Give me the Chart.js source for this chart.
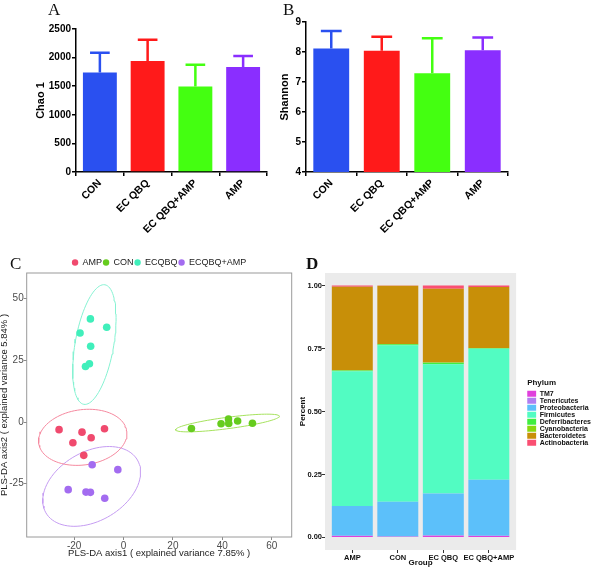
<!DOCTYPE html>
<html>
<head>
<meta charset="utf-8">
<script src="https://cdn.jsdelivr.net/npm/chart.js@4/dist/chart.umd.min.js"></script>
<style>
  html, body { margin: 0; padding: 0; background: #fff; overflow: hidden; }
  #fig { position: relative; width: 596px; height: 568px; overflow: hidden; }
  #fig canvas { position: absolute; }
  .tag {
    position: absolute;
    font-family: "Liberation Serif", "DejaVu Serif", serif;
    font-size: 17px;
    line-height: 17px;
    color: #111;
  }
</style>
</head>
<body>
<div id="fig">
  <canvas id="chartA" width="290" height="250" style="left:0;top:0"></canvas>
  <canvas id="chartB" width="326" height="250" style="left:270px;top:0"></canvas>
  <canvas id="chartC" width="300" height="315" style="left:0;top:253px"></canvas>
  <canvas id="chartD" width="305" height="313" style="left:296px;top:255px"></canvas>
  <div class="tag" style="left:48px;top:1px">A</div>
  <div class="tag" style="left:283px;top:1px">B</div>
  <div class="tag" style="left:10px;top:255px">C</div>
  <div class="tag" style="left:306px;top:255px;font-weight:bold">D</div>
</div>

<script>
// ================= DATA =================
// A / B: alpha diversity (mean and upper end of the error bar)
const groups = ["CON", "EC QBQ", "EC QBQ+AMP", "AMP"];
const groupColors = ["#2a50f0", "#ff1a1a", "#44ff11", "#8a2eff"];
const chao1Mean = [1740, 1940, 1495, 1835];
const chao1Upper = [2085, 2310, 1875, 2030];
const chao1Ticks = [0, 500, 1000, 1500, 2000, 2500];
const shannonMean = [8.12, 8.04, 7.29, 8.06];
const shannonUpper = [8.7, 8.51, 8.46, 8.48];
const shannonTicks = [4, 5, 6, 7, 8, 9];

// C: PLS-DA scores
const plsGroups = ["AMP", "CON", "ECQBQ", "ECQBQ+AMP"];
const plsColors = ["#f04a6e", "#66cc1e", "#40efbb", "#a36cf0"];
const ellipseColors = ["#f5899f", "#a6e25e", "#86f2d2", "#c59cf2"];
const ampX = [-26.1, -20.5, -16.8, -13.1, -7.7, -16.1];
const ampY = [-3.1, -8.4, -4.1, -6.4, -2.7, -13.5];
const conX = [27.5, 39.5, 42.5, 42.6, 46.2, 52.2];
const conY = [-2.6, -0.7, 1.2, -0.6, 0.4, -0.5];
const ecqbqX = [-13.4, -17.6, -6.8, -13.3, -13.8, -15.4];
const ecqbqY = [41.8, 36.1, 38.4, 30.7, 23.6, 22.5];
const ecqbqAmpX = [-12.7, -2.3, -22.4, -15.2, -13.4, -7.6];
const ecqbqAmpY = [-17.3, -19.3, -27.4, -28.4, -28.5, -30.9];
// confidence ellipses: centre, semi axes and tilt (degrees), one per group
const ellipseCx = [-16.5, 42.1, -11.8, -12.9];
const ellipseCy = [-6.2, -0.4, 31.4, -26.1];
const ellipseA = [18.0, 21.2, 24.6, 21.4];
const ellipseB = [11.2, 2.3, 7.8, 14.0];
const ellipseTilt = [8, 7.5, 80, 30];
const plsXTicks = [-20, 0, 20, 40, 60];
const plsYTicks = [-25, 0, 25, 50];

// D: relative abundance by phylum
const phylaGroups = ["AMP", "CON", "EC QBQ", "EC QBQ+AMP"];
const phyla = ["TM7", "Tenericutes", "Proteobacteria", "Firmicutes",
  "Deferribacteres", "Cyanobacteria", "Bacteroidetes", "Actinobacteria"];
const phylaColors = ["#e040dc", "#b07ef0", "#5cc0fa", "#52fcc2",
  "#40ee40", "#88d810", "#c88f08", "#fa4f72"];
const tm7 = [0.006, 0.003, 0.007, 0.006];
const tenericutes = [0.001, 0.001, 0.001, 0.001];
const proteobacteria = [0.118, 0.138, 0.166, 0.222];
const firmicutes = [0.535, 0.621, 0.514, 0.52];
const deferribacteres = [0.003, 0.004, 0.006, 0.002];
const cyanobacteria = [0.001, 0.001, 0.001, 0.001];
const bacteroidetes = [0.331, 0.231, 0.292, 0.242];
const actinobacteria = [0.005, 0.001, 0.013, 0.006];
const percentTicks = [0, 0.25, 0.5, 0.75, 1];

Chart.defaults.font.family = '"Liberation Sans", Arial, sans-serif';
Chart.defaults.animation = false;

// ================= PLUGINS =================
const errorBars = {
  id: "errorBars",
  afterDatasetsDraw(chart) {
    const { ctx } = chart;
    const y = chart.scales.y;
    const ds = chart.data.datasets[0];
    chart.getDatasetMeta(0).data.forEach((bar, i) => {
      const top = y.getPixelForValue(ds.upper[i]);
      const half = bar.width * 0.29;
      ctx.save();
      ctx.strokeStyle = ds.backgroundColor[i];
      ctx.lineWidth = 2.5;
      ctx.beginPath();
      ctx.moveTo(bar.x, bar.y);
      ctx.lineTo(bar.x, top);
      ctx.moveTo(bar.x - half, top);
      ctx.lineTo(bar.x + half, top);
      ctx.stroke();
      ctx.restore();
    });
  },
};

const panelFrame = {
  id: "panelFrame",
  beforeDatasetsDraw(chart) {
    const { ctx, chartArea: a } = chart;
    ctx.save();
    ctx.strokeStyle = "#9a9a9a";
    ctx.lineWidth = 1;
    ctx.strokeRect(a.left, a.top, a.right - a.left, a.bottom - a.top);
    ctx.restore();
  },
};

const nudgeLegend = {
  id: "nudgeLegend",
  afterLayout(chart) {
    chart.legend.top += 4;
    chart.legend.bottom += 4;
  },
};

const grayPanel = {
  id: "grayPanel",
  beforeDraw(chart) {
    const { ctx, chartArea: a } = chart;
    ctx.save();
    ctx.fillStyle = "#ebebeb";
    ctx.fillRect(a.left, a.top, a.right - a.left, a.bottom - a.top);
    ctx.restore();
  },
};

// ================= A / B: BAR PANELS =================
function barPanel(id, values, upper, yTicks, yTitle, pad, yWidth) {
  return new Chart(document.getElementById(id), {
    type: "bar",
    data: {
      labels: groups,
      datasets: [{
        data: values,
        upper: upper,
        backgroundColor: groupColors,
        barPercentage: 0.71,
        categoryPercentage: 1,
      }],
    },
    options: {
      responsive: false,
      layout: { padding: pad },
      plugins: { legend: { display: false }, tooltip: { enabled: false } },
      scales: {
        x: {
          grid: { drawOnChartArea: false, tickLength: 4, color: "#000", lineWidth: 1.5 },
          border: { color: "#000", width: 1.5 },
          ticks: {
            color: "#000", minRotation: 45, maxRotation: 45, padding: 1,
            font: { size: 10.5, weight: "bold" },
          },
          afterFit: (s) => { s.height = 78; },
        },
        y: {
          min: yTicks[0],
          max: yTicks[yTicks.length - 1],
          afterBuildTicks: (s) => { s.ticks = yTicks.map((v) => ({ value: v })); },
          grid: { drawOnChartArea: false, tickLength: 4, color: "#000", lineWidth: 1.5 },
          border: { color: "#000", width: 1.5 },
          ticks: {
            color: "#000", padding: 1, font: { size: 10, weight: "bold" },
            callback: (v) => String(v),
          },
          title: {
            display: true, text: yTitle, color: "#000", padding: 0,
            font: { size: 11, weight: "bold" },
          },
          afterFit: (s) => { s.width = yWidth; },
        },
      },
    },
    plugins: [errorBars],
  });
}

barPanel("chartA", chao1Mean, chao1Upper, chao1Ticks, "Chao 1",
  { left: 34.4, top: 29, right: 23, bottom: 0 }, 41.6);
barPanel("chartB", shannonMean, shannonUpper, shannonTicks, "Shannon",
  { left: 8.4, top: 22, right: 88, bottom: 0 }, 27.6);

// ================= C: PLS-DA SCATTER =================
function toPoints(xs, ys) {
  return xs.map((x, i) => ({ x: x, y: ys[i] }));
}

function ellipsePoints(k) {
  const t = (ellipseTilt[k] * Math.PI) / 180;
  const pts = [];
  for (let d = 0; d <= 360; d += 4) {
    const u = (d * Math.PI) / 180;
    const ca = ellipseA[k] * Math.cos(u);
    const sb = ellipseB[k] * Math.sin(u);
    pts.push({
      x: ellipseCx[k] + ca * Math.cos(t) - sb * Math.sin(t),
      y: ellipseCy[k] + ca * Math.sin(t) + sb * Math.cos(t),
    });
  }
  return pts;
}

const plsPoints = [
  toPoints(ampX, ampY),
  toPoints(conX, conY),
  toPoints(ecqbqX, ecqbqY),
  toPoints(ecqbqAmpX, ecqbqAmpY),
];

const scatterSets = plsGroups.map((g, k) => ({
  label: g,
  data: plsPoints[k],
  backgroundColor: plsColors[k],
  borderColor: plsColors[k],
  borderWidth: 0,
  pointRadius: 3.8,
}));

const ellipseSets = plsGroups.map((g, k) => ({
  label: "",
  data: ellipsePoints(k),
  showLine: true,
  pointRadius: 0,
  borderColor: ellipseColors[k],
  borderWidth: 1,
  fill: false,
}));

const plsAxis = (ticks, min, max, title, size) => ({
  min: min,
  max: max,
  afterBuildTicks: (s) => { s.ticks = ticks.map((v) => ({ value: v })); },
  grid: { drawOnChartArea: false, tickLength: 3, color: "#8a8a8a" },
  border: { display: false },
  ticks: { color: "#4d4d4d", padding: 0, font: { size: 10 } },
  title: {
    display: true, text: title, color: "#222", padding: 0,
    font: { size: 9.5, lineHeight: 1 },
  },
  afterFit: size,
});

new Chart(document.getElementById("chartC"), {
  type: "scatter",
  data: { datasets: [...scatterSets, ...ellipseSets] },
  options: {
    responsive: false,
    layout: { padding: { left: 0, top: 0, right: 8.3, bottom: 10.3 } },
    plugins: {
      tooltip: { enabled: false },
      legend: {
        position: "top",
        fullSize: false,
        labels: {
          usePointStyle: true,
          pointStyle: "circle",
          boxWidth: 6,
          boxHeight: 4.5,
          padding: 1,
          color: "#1a1a1a",
          font: { size: 9 },
          filter: (item) => item.text !== "",
        },
      },
    },
    scales: {
      x: plsAxis(plsXTicks, -39.2, 68.1, "PLS-DA axis1 ( explained variance 7.85% )",
        (s) => { s.height = 20.7; }),
      y: plsAxis(plsYTicks, -46.6, 60.4, "PLS-DA axis2 ( explained variance 5.84% )",
        (s) => { s.width = 26.7; }),
    },
  },
  plugins: [panelFrame, nudgeLegend],
});

// ================= D: PHYLUM STACKED BARS =================
const phylumValues = [tm7, tenericutes, proteobacteria, firmicutes,
  deferribacteres, cyanobacteria, bacteroidetes, actinobacteria];

new Chart(document.getElementById("chartD"), {
  type: "bar",
  data: {
    datasets: phyla.map((p, k) => ({
      label: p,
      data: phylumValues[k].map((v, i) => ({ x: i + 1, y: v })),
      backgroundColor: phylaColors[k],
      borderWidth: 0,
      barPercentage: 0.9,
      categoryPercentage: 1,
      xAxisID: "x",
      yAxisID: "y",
    })),
  },
  options: {
    responsive: false,
    layout: { padding: { left: 2, top: 18, right: 0, bottom: 0.5 } },
    plugins: {
      tooltip: { enabled: false },
      legend: {
        position: "right",
        fullSize: false,
        maxWidth: 90,
        title: {
          display: true, text: "Phylum", position: "start", color: "#111",
          padding: { top: 2, bottom: 2 }, font: { size: 8, weight: "bold" },
        },
        labels: {
          boxWidth: 9, boxHeight: 6, padding: 0, color: "#111",
          font: { size: 7, weight: "bold" },
        },
      },
    },
    scales: {
      x: {
        type: "linear",
        stacked: true,
        offset: false,
        min: 0.4,
        max: 4.6,
        afterBuildTicks: (s) => { s.ticks = phylaGroups.map((g, i) => ({ value: i + 1 })); },
        grid: { drawOnChartArea: false, offset: false, tickLength: 3, color: "#333" },
        border: { display: false },
        ticks: {
          color: "#111", padding: 0, autoSkip: false, minRotation: 0, maxRotation: 0,
          font: { size: 7.5, weight: "bold" },
          callback: (v, i) => phylaGroups[i],
        },
        title: { display: true, text: "Group", color: "#111", padding: 0, font: { size: 8, weight: "bold" } },
        afterFit: (s) => { s.height = 17.5; },
      },
      y: {
        stacked: true,
        min: -0.05,
        max: 1.05,
        afterBuildTicks: (s) => { s.ticks = percentTicks.map((v) => ({ value: v })); },
        grid: { drawOnChartArea: false, tickLength: 3, color: "#333" },
        border: { display: false },
        ticks: {
          color: "#111", padding: 0, font: { size: 7.5, weight: "bold" },
          callback: (v) => v.toFixed(2),
        },
        title: { display: true, text: "Percent", color: "#111", padding: 0, font: { size: 8, weight: "bold" } },
        afterFit: (s) => { s.width = 27; },
      },
      gap: {
        type: "linear",
        position: "right",
        grid: { display: false },
        border: { display: false },
        ticks: { display: false },
        afterFit: (s) => { s.width = 11; },
      },
    },
  },
  plugins: [grayPanel],
});
</script>
</body>
</html>
